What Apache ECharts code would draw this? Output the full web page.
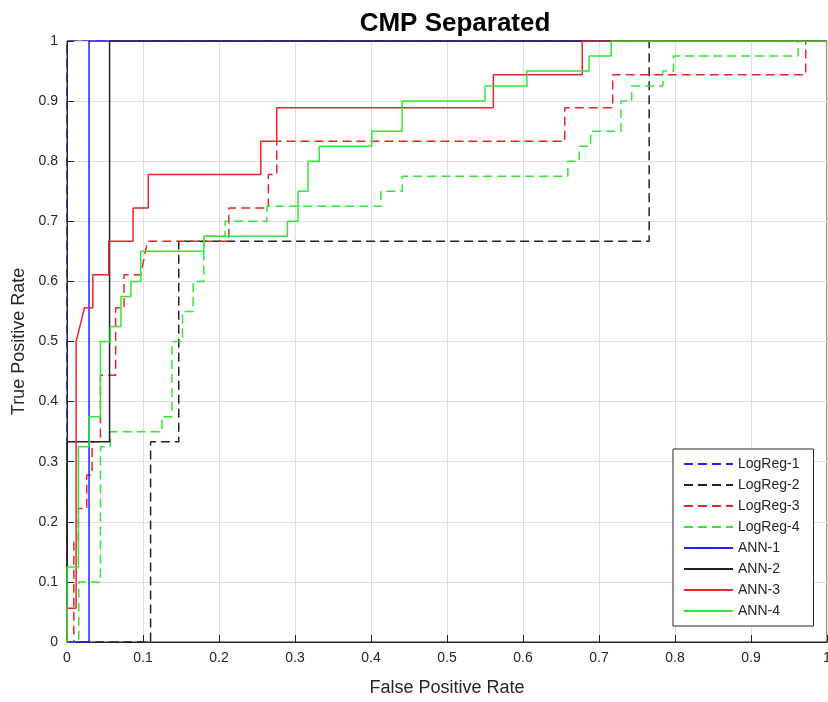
<!DOCTYPE html>
<html>
<head>
<meta charset="utf-8">
<title>CMP Separated</title>
<script src="https://cdn.jsdelivr.net/npm/echarts@6/dist/echarts.min.js"></script>
<style>
  html, body { margin: 0; padding: 0; background: #ffffff; overflow: hidden; }
  #chart { width: 828px; height: 702px; }
</style>
</head>
<body>
<div id="chart"></div>
<script>
// ROC curves: false positive rate (x) against true positive rate (y)
const titleText = 'CMP Separated';
const xName = 'False Positive Rate';
const yName = 'True Positive Rate';
const tickValues = [0, 0.1, 0.2, 0.3, 0.4, 0.5, 0.6, 0.7, 0.8, 0.9, 1];

const logReg1Fpr = [0, 0, 1];
const logReg1Tpr = [0, 1, 1];

const logReg2Fpr = [0, 0.11, 0.11, 0.147, 0.147, 0.766, 0.766, 1];
const logReg2Tpr = [0, 0, 0.333, 0.333, 0.667, 0.667, 1, 1];

const logReg3Fpr = [0, 0.009, 0.009, 0.015, 0.015, 0.026, 0.026, 0.033, 0.033, 0.044, 0.044, 0.064, 0.064, 0.075, 0.075, 0.097, 0.106, 0.213, 0.213, 0.265, 0.265, 0.276, 0.276, 0.655, 0.655, 0.718, 0.718, 0.972, 0.972, 1];
const logReg3Tpr = [0, 0, 0.167, 0.167, 0.222, 0.222, 0.278, 0.278, 0.333, 0.333, 0.444, 0.444, 0.556, 0.556, 0.611, 0.611, 0.667, 0.667, 0.722, 0.722, 0.778, 0.778, 0.833, 0.833, 0.889, 0.889, 0.944, 0.944, 1, 1];

const logReg4Fpr = [0, 0.0155, 0.0155, 0.044, 0.044, 0.057, 0.057, 0.125, 0.125, 0.138, 0.138, 0.152, 0.152, 0.166, 0.166, 0.18, 0.18, 0.208, 0.208, 0.263, 0.263, 0.413, 0.413, 0.441, 0.441, 0.659, 0.659, 0.674, 0.674, 0.689, 0.689, 0.729, 0.729, 0.743, 0.743, 0.784, 0.784, 0.798, 0.798, 0.962, 0.962, 1];
const logReg4Tpr = [0, 0, 0.1, 0.1, 0.325, 0.325, 0.35, 0.35, 0.375, 0.375, 0.5, 0.5, 0.55, 0.55, 0.6, 0.6, 0.675, 0.675, 0.7, 0.7, 0.725, 0.725, 0.75, 0.75, 0.775, 0.775, 0.8, 0.8, 0.825, 0.825, 0.85, 0.85, 0.9, 0.9, 0.925, 0.925, 0.95, 0.95, 0.975, 0.975, 1, 1];

const ann1Fpr = [0, 0.029, 0.029, 1];
const ann1Tpr = [0, 0, 1, 1];

const ann2Fpr = [0, 0, 0.056, 0.056, 1];
const ann2Tpr = [0, 0.333, 0.333, 1, 1];

const ann3Fpr = [0, 0, 0.012, 0.012, 0.023, 0.034, 0.034, 0.055, 0.055, 0.087, 0.087, 0.107, 0.107, 0.255, 0.255, 0.276, 0.276, 0.561, 0.561, 0.678, 0.678, 1];
const ann3Tpr = [0, 0.056, 0.056, 0.5, 0.556, 0.556, 0.611, 0.611, 0.667, 0.667, 0.722, 0.722, 0.778, 0.778, 0.833, 0.833, 0.889, 0.889, 0.944, 0.944, 1, 1];

const ann4Fpr = [0, 0, 0.015, 0.015, 0.029, 0.029, 0.044, 0.044, 0.057, 0.057, 0.071, 0.071, 0.084, 0.084, 0.097, 0.097, 0.18, 0.18, 0.29, 0.29, 0.304, 0.304, 0.317, 0.317, 0.332, 0.332, 0.401, 0.401, 0.441, 0.441, 0.55, 0.55, 0.605, 0.605, 0.687, 0.687, 0.716, 0.716, 1];
const ann4Tpr = [0, 0.125, 0.125, 0.325, 0.325, 0.375, 0.375, 0.5, 0.5, 0.525, 0.525, 0.575, 0.575, 0.6, 0.6, 0.65, 0.65, 0.675, 0.675, 0.7, 0.7, 0.75, 0.75, 0.8, 0.8, 0.825, 0.825, 0.85, 0.85, 0.9, 0.9, 0.925, 0.925, 0.95, 0.95, 0.975, 0.975, 1, 1];

const curves = [
  { name: 'LogReg-1', fpr: logReg1Fpr, tpr: logReg1Tpr, color: '#1f1fff', dashed: true, z: 0.5 },
  { name: 'LogReg-2', fpr: logReg2Fpr, tpr: logReg2Tpr, color: '#222222', dashed: true, z: 2 },
  { name: 'LogReg-3', fpr: logReg3Fpr, tpr: logReg3Tpr, color: '#e8262a', dashed: true, z: 2 },
  { name: 'LogReg-4', fpr: logReg4Fpr, tpr: logReg4Tpr, color: '#33e633', dashed: true, z: 2 },
  { name: 'ANN-1', fpr: ann1Fpr, tpr: ann1Tpr, color: '#1f1fff', dashed: false, z: 2 },
  { name: 'ANN-2', fpr: ann2Fpr, tpr: ann2Tpr, color: '#222222', dashed: false, z: 2 },
  { name: 'ANN-3', fpr: ann3Fpr, tpr: ann3Tpr, color: '#e8262a', dashed: false, z: 2 },
  { name: 'ANN-4', fpr: ann4Fpr, tpr: ann4Tpr, color: '#33e633', dashed: false, z: 2 }
];

const FONT = '"Liberation Sans", Arial, Helvetica, sans-serif';
const INK = '#262626';

const fmtTick = v => {
  const t = tickValues.find(k => Math.abs(k - v) < 1e-9);
  return t === undefined ? '' : String(t);
};

// axes sit above the curve that runs along the left edge
const axisCommon = {
  type: 'value',
  z: 1,
  min: 0,
  max: 1,
  interval: 0.1,
  nameLocation: 'middle',
  nameTextStyle: { fontFamily: FONT, fontSize: 18, color: INK },
  axisLine: { show: true, lineStyle: { color: INK, width: 1 } },
  axisTick: { show: true, inside: true, length: 7, lineStyle: { color: INK, width: 1 } },
  axisLabel: { fontFamily: FONT, fontSize: 14, color: INK, margin: 9, formatter: fmtTick, showMaxLabel: true, showMinLabel: true },
  splitLine: { show: true, lineStyle: { color: '#dfdfdf', width: 1 } }
};

const chart = echarts.init(document.getElementById('chart'), null, { renderer: 'canvas', width: 828, height: 702 });

chart.setOption({
  animation: false,
  backgroundColor: '#ffffff',
  title: {
    text: titleText,
    left: 450,
    top: 6,
    textAlign: 'center',
    textStyle: { fontFamily: FONT, fontSize: 26, fontWeight: 'bold', color: '#000000' }
  },
  grid: {
    left: 67,
    right: 1,
    top: 41,
    bottom: 60,
    containLabel: false,
    outerBoundsMode: 'none',
    show: true,
    borderColor: INK,
    borderWidth: 1,
    backgroundColor: 'transparent'
  },
  xAxis: Object.assign({}, axisCommon, { name: xName, nameGap: 37 }),
  yAxis: Object.assign({}, axisCommon, { name: yName, nameGap: 38, nameRotate: 90 }),
  legend: {
    orient: 'vertical',
    left: 673,
    top: 449,
    padding: [8, 14, 8, 10],
    itemWidth: 49,
    itemHeight: 14,
    itemGap: 7,
    backgroundColor: '#ffffff',
    borderColor: INK,
    borderWidth: 1,
    borderRadius: 0,
    itemStyle: { opacity: 0 },
    textStyle: { fontFamily: FONT, fontSize: 14, color: INK },
    data: curves.map(c => c.name)
  },
  series: curves.map(c => ({
    name: c.name,
    type: 'line',
    z: c.z,
    symbol: 'none',
    showSymbol: false,
    smooth: false,
    color: c.color,
    lineStyle: { color: c.color, width: 1.5, type: c.dashed ? [9, 5] : 'solid' },
    data: c.fpr.map((x, i) => [x, c.tpr[i]])
  }))
});
</script>
</body>
</html>
